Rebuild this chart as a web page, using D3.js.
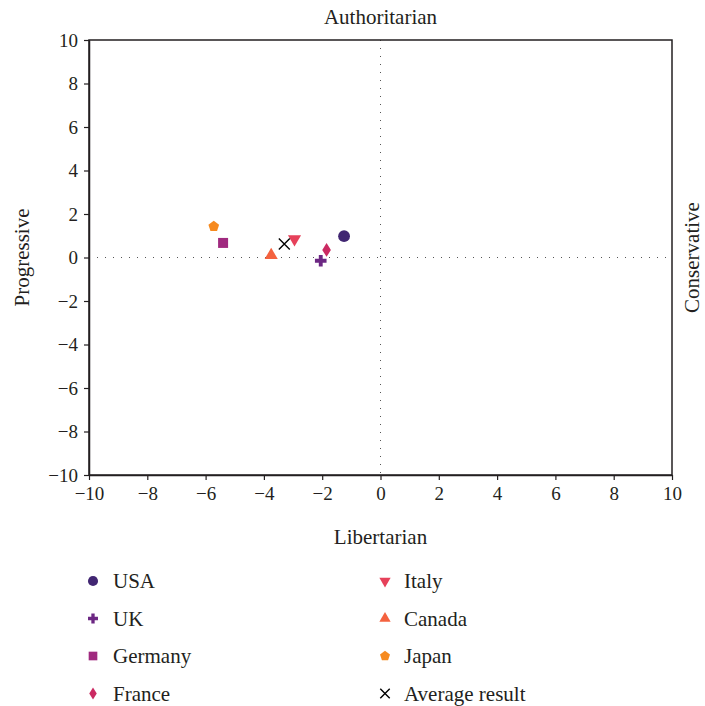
<!DOCTYPE html>
<html>
<head>
<meta charset="utf-8">
<script src="https://cdn.jsdelivr.net/npm/d3@7"></script>
<style>
  html, body { margin: 0; padding: 0; background: #fff; }
  svg { display: block; font-family: "Liberation Serif", "DejaVu Serif", serif; }
</style>
</head>
<body>
<svg id="chart" width="705" height="706"></svg>
<script>
// Political compass positions per country
const countries = ["USA", "UK", "Germany", "France", "Italy", "Canada", "Japan", "Average result"];
const xValues = [-1.25, -2.05, -5.4, -1.85, -2.95, -3.75, -5.72, -3.3];
const yValues = [0.98, -0.15, 0.67, 0.35, 0.85, 0.1, 1.43, 0.62];
const colors = ["#412672", "#6c2783", "#a02a7f", "#cb2a62", "#e6415a", "#f4623f", "#f68a1f", "#000000"];
const symbolNames = ["circle", "cross", "square", "diamond", "triangleDown", "triangleUp", "pentagon", "x"];
const ticks = [-10, -8, -6, -4, -2, 0, 2, 4, 6, 8, 10];

const FONT = "'Liberation Serif', 'DejaVu Serif', serif";
const INK = "#231f20";

const svg = d3.select("#chart");
const margin = { left: 89, right: 33, top: 40, bottom: 231 };
const W = 705, H = 706;

const x = d3.scaleLinear().domain([-10, 10]).range([margin.left, W - margin.right]);
const y = d3.scaleLinear().domain([-10, 10]).range([H - margin.bottom, margin.top]);

// Shape generators
const pentagon = {
  draw(ctx, size) {
    const r = Math.sqrt(size / 2.378);
    for (let i = 0; i < 5; i++) {
      const a = -Math.PI / 2 + i * 2 * Math.PI / 5;
      const px = r * Math.cos(a), py = r * Math.sin(a);
      if (i === 0) ctx.moveTo(px, py); else ctx.lineTo(px, py);
    }
    ctx.closePath();
  }
};
const diamond = {
  draw(ctx, size) {
    const w = Math.sqrt(size / 3.2), h = w * 1.6;
    ctx.moveTo(0, -h); ctx.lineTo(w, 0); ctx.lineTo(0, h); ctx.lineTo(-w, 0); ctx.closePath();
  }
};
function shapePath(name, size) {
  const map = {
    circle: d3.symbolCircle, cross: d3.symbolCross, square: d3.symbolSquare,
    diamond: diamond, triangleDown: d3.symbolTriangle, triangleUp: d3.symbolTriangle,
    pentagon: pentagon, x: d3.symbolX
  };
  return d3.symbol().type(map[name]).size(size)();
}
function drawMarker(g, i, size) {
  const name = symbolNames[i];
  const p = g.append("path").attr("d", shapePath(name, size));
  if (name === "x") {
    p.attr("fill", "none").attr("stroke", colors[i]).attr("stroke-width", 1.4);
  } else {
    p.attr("fill", colors[i]);
  }
  if (name === "triangleDown") p.attr("transform", "rotate(180)");
  return p;
}

// Zero reference lines
svg.append("line")
  .attr("x1", x(0)).attr("x2", x(0)).attr("y1", y(10)).attr("y2", y(-10))
  .attr("stroke", "#555").attr("stroke-width", 1).attr("stroke-dasharray", "1,7");
svg.append("line")
  .attr("x1", x(-10)).attr("x2", x(10)).attr("y1", y(0)).attr("y2", y(0))
  .attr("stroke", "#555").attr("stroke-width", 1).attr("stroke-dasharray", "1,7");

// Frame
svg.append("rect")
  .attr("x", x(-10)).attr("y", y(10))
  .attr("width", x(10) - x(-10)).attr("height", y(-10) - y(10))
  .attr("fill", "none").attr("stroke", INK).attr("stroke-width", 1.5);

const fmt = d => d < 0 ? "\u2212" + Math.abs(d) : String(d);

// Axes
const xAxis = svg.append("g")
  .attr("transform", `translate(0,${y(-10)})`)
  .call(d3.axisBottom(x).tickValues(ticks).tickFormat(fmt).tickSize(5).tickSizeOuter(0).tickPadding(7));
const yAxis = svg.append("g")
  .attr("transform", `translate(${x(-10)},0)`)
  .call(d3.axisLeft(y).tickValues(ticks).tickFormat(fmt).tickSize(5).tickSizeOuter(0).tickPadding(6));
[xAxis, yAxis].forEach(a => {
  a.attr("font-family", FONT).attr("font-size", 19);
  a.select(".domain").attr("stroke", INK).attr("stroke-width", 1.5);
  a.selectAll(".tick line").attr("stroke", INK).attr("stroke-width", 1.2);
  a.selectAll(".tick text").attr("fill", INK);
});

// Axis titles
const title = (sel) => sel.attr("font-family", FONT).attr("font-size", 21).attr("fill", INK).attr("text-anchor", "middle");
svg.append("text").attr("x", x(0)).attr("y", 24).call(title).text("Authoritarian");
svg.append("text").attr("x", x(0)).attr("y", 544).call(title).text("Libertarian");
svg.append("text").attr("transform", `translate(29,${y(0)}) rotate(-90)`).call(title).text("Progressive");
svg.append("text").attr("transform", `translate(699,${y(0)}) rotate(-90)`).call(title).text("Conservative");

// Data points
const sizes = [110, 75, 100, 60, 75, 75, 75, 80];
countries.forEach((c, i) => {
  const g = svg.append("g").attr("transform", `translate(${x(xValues[i])},${y(yValues[i])})`);
  drawMarker(g, i, sizes[i]);
});

// Legend
const legendSizes = [80, 55, 75, 45, 55, 55, 65, 60];
countries.forEach((c, i) => {
  const col = i < 4 ? 0 : 1;
  const row = i % 4;
  const mx = col === 0 ? 93 : 385;
  const tx = col === 0 ? 113 : 404;
  const cy = 581 + row * 37.5;
  const g = svg.append("g").attr("transform", `translate(${mx},${cy})`);
  drawMarker(g, i, legendSizes[i]);
  svg.append("text").attr("x", tx).attr("y", cy + 7)
    .attr("font-family", FONT).attr("font-size", 21).attr("fill", INK).text(c);
});
</script>
</body>
</html>
